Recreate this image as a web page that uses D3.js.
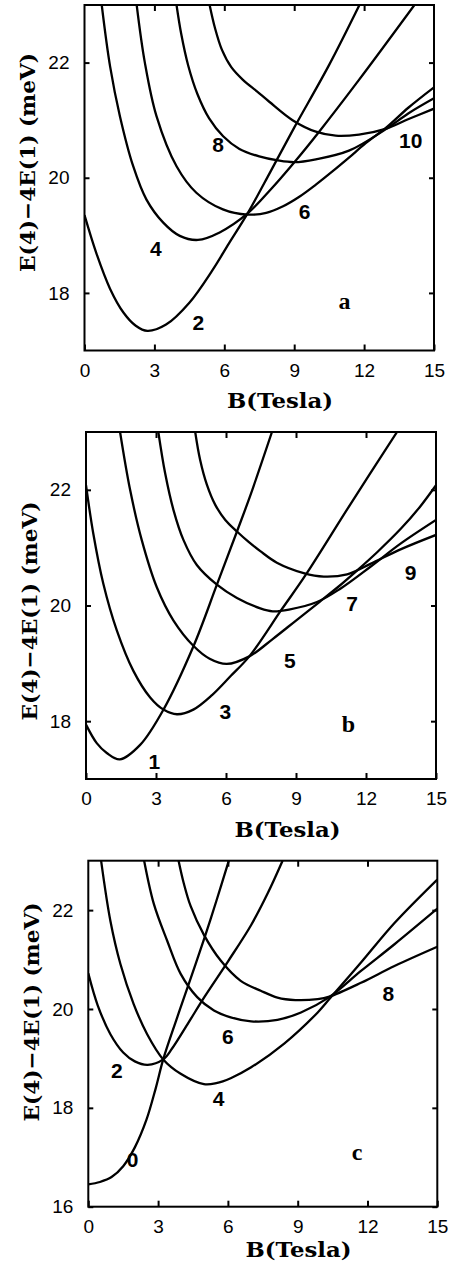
<!doctype html>
<html>
<head>
<style>
body { margin: 0; background: #fff; }
.curve { fill: none; stroke: #000; stroke-width: 2.3; }
.frame { fill: none; stroke: #000; stroke-width: 2; }
.tick line { stroke-width: 2; }
.num { font-family: "Liberation Sans", Arial, sans-serif; font-weight: bold; font-size: 21px; }
.tag { font-family: "Liberation Serif", serif; font-weight: bold; font-size: 24px; }
.title { font-family: "DejaVu Serif", serif; font-weight: bold; font-size: 21px; }
</style>
<script src="https://d3js.org/d3.v7.min.js"></script>
</head>
<body>
<svg width="451" height="1268"></svg>
<script>
// tick values
var fieldTicks = [0, 3, 6, 9, 12, 15];
var innerFieldTicks = [3, 6, 9, 12];
var energyTicksAB = [18, 20, 22];
var energyTicksC = [16, 18, 20, 22];

// panel a: [B (T), E (meV)]
var a2 = [[0,19.35],[0.5,18.7],[1.1,18.07],[1.67,17.66],[2.2,17.43],[2.7,17.34],[3.5,17.45],[4.5,17.83],[5.5,18.4],[6.2,18.86],[7.0,19.38],[8.0,20.12],[9.0,20.87],[10.5,21.96],[11.8,23.0]];
var a4 = [[0.74,23.0],[1.1,21.93],[1.52,21.07],[2.09,20.2],[2.66,19.62],[3.38,19.22],[4.09,18.99],[4.87,18.92],[5.8,19.05],[7.0,19.38],[8.0,19.8],[9.07,20.3],[10.07,20.8],[11.78,21.7],[14.16,23.0]];
var a6 = [[2.24,23.0],[2.59,22.0],[3.09,21.07],[3.95,20.2],[4.8,19.74],[5.94,19.45],[7.0,19.36],[7.8,19.39],[8.5,19.5],[9.22,19.67],[9.93,19.88],[10.64,20.11],[11.35,20.35],[12.07,20.6],[12.92,20.86],[13.91,21.22],[15,21.57]];
var a8 = [[3.95,23.0],[4.15,22.5],[4.45,21.95],[4.85,21.45],[5.35,21.03],[5.95,20.72],[6.65,20.5],[7.5,20.37],[8.3,20.3],[9.0,20.27],[9.93,20.32],[11.35,20.47],[12.92,20.84],[13.91,21.12],[15,21.38]];
var a10 = [[5.37,23.0],[5.6,22.6],[5.9,22.22],[6.3,21.92],[6.8,21.7],[7.4,21.5],[7.93,21.32],[8.93,21.0],[9.93,20.8],[10.78,20.73],[11.78,20.75],[12.92,20.85],[13.91,21.02],[15,21.2]];
var labelsA = [["2",4.89,17.48],["4",3.06,18.78],["6",9.45,19.41],["8",5.73,20.58],["10",14.0,20.65]];

// panel b
var b1 = [[0,17.94],[0.46,17.62],[0.89,17.45],[1.45,17.34],[2.32,17.59],[3.32,18.2],[4.61,19.3],[5.61,20.36],[6.47,21.28],[7.04,21.9],[7.97,23.0]];
var b3 = [[0,22.08],[0.31,21.25],[0.74,20.38],[1.32,19.57],[2.03,18.87],[2.75,18.41],[3.32,18.2],[3.9,18.12],[4.6,18.2],[5.4,18.45],[6.2,18.78],[7.0,19.12],[8.4,19.94],[9.4,20.52],[11.33,21.75],[13.33,23.0]];
var b5 = [[1.46,23.0],[1.89,22.0],[2.39,21.13],[3.03,20.32],[3.75,19.74],[4.61,19.3],[5.3,19.08],[6.03,18.99],[7.0,19.12],[8.0,19.42],[9.0,19.74],[10.0,20.06],[10.8,20.32],[11.6,20.6],[12.5,20.93],[13.5,21.33],[14.3,21.7],[15,22.08]];
var b7 = [[3.1,23.0],[3.39,22.29],[3.75,21.65],[4.18,21.13],[4.75,20.7],[5.61,20.36],[6.47,20.13],[7.47,19.95],[8.0,19.9],[8.7,19.93],[9.9,20.06],[10.9,20.29],[12.19,20.67],[13.48,21.07],[15,21.48]];
var b9 = [[4.68,23.0],[4.89,22.52],[5.18,22.09],[5.54,21.74],[5.97,21.48],[6.47,21.28],[6.97,21.1],[7.47,20.94],[8.18,20.74],[9.33,20.56],[10.19,20.5],[11.19,20.54],[12.19,20.72],[13.48,20.97],[15,21.22]];
var labelsB = [["1",2.93,17.31],["3",5.97,18.17],["5",8.74,19.05],["7",11.4,20.04],["9",13.91,20.57]];

// panel c
var c0 = [[0,16.45],[0.5,16.5],[1.0,16.6],[1.5,16.82],[2.0,17.2],[2.5,17.76],[2.9,18.4],[3.22,18.98],[3.8,19.8],[4.4,20.62],[5.0,21.45],[5.5,22.18],[6.04,23.0]];
var c2 = [[0,20.72],[0.4,20.08],[0.95,19.49],[1.5,19.12],[2.0,18.94],[2.55,18.87],[3.22,18.98],[3.6,19.2],[4.3,19.72],[5.0,20.25],[6.0,20.96],[7.0,21.7],[7.7,22.33],[8.35,23.0]];
var c4 = [[0.55,23.0],[0.95,21.78],[1.38,20.91],[1.95,20.1],[2.53,19.49],[3.22,18.98],[3.97,18.69],[4.97,18.48],[5.5,18.5],[6.12,18.6],[7.0,18.82],[8.42,19.3],[9.86,19.93],[10.36,20.2],[11.72,20.94],[13.16,21.74],[15,22.62]];
var c6 = [[2.4,23.0],[2.82,22.12],[3.39,21.38],[3.97,20.71],[4.68,20.24],[5.4,19.97],[6.12,19.83],[7.0,19.75],[8.13,19.78],[9.14,19.93],[10.36,20.24],[11.72,20.77],[13.16,21.31],[15,22.03]];
var c8 = [[3.88,23.0],[4.1,22.55],[4.4,22.08],[4.97,21.5],[5.69,20.98],[6.55,20.57],[7.41,20.37],[8.13,20.23],[8.9,20.18],[9.86,20.2],[10.36,20.25],[11.72,20.53],[13.16,20.87],[15,21.26]];
var labelsC = [["0",1.9,16.96],["2",1.23,18.76],["4",5.6,18.19],["6",6.0,19.44],["8",12.9,20.31]];

var panels = [
	{id: "a", curves: [a2, a4, a6, a8, a10], labels: labelsA, tag: [11.16, 17.82], yDomain: [17, 23], yTicks: energyTicksAB,
	 left: 84.5, right: 434, top: 5, bottom: 350.5, xLabelX: 280, xLabelY: 408, yLabelX: 35, yLabelY: 162.5},
	{id: "b", curves: [b1, b3, b5, b7, b9], labels: labelsB, tag: [11.25, 17.91], yDomain: [17, 23], yTicks: energyTicksAB,
	 left: 86, right: 436, top: 432, bottom: 779, xLabelX: 287.5, xLabelY: 836.5, yLabelX: 37, yLabelY: 611},
	{id: "c", curves: [c0, c2, c4, c6, c8], labels: labelsC, tag: [11.55, 17.07], yDomain: [16, 23], yTicks: energyTicksC,
	 left: 88.3, right: 437.3, top: 860.7, bottom: 1206.7, xLabelX: 298.5, xLabelY: 1257, yLabelX: 39, yLabelY: 1012}
];

var svg = d3.select("svg");

function noDomain(g) { g.select(".domain").remove(); }

panels.forEach(function(p) {
	var x = d3.scaleLinear().domain([0, 15]).range([p.left, p.right]);
	var y = d3.scaleLinear().domain(p.yDomain).range([p.bottom, p.top]);
	var g = svg.append("g");

	g.append("clipPath").attr("id", "clip-" + p.id)
		.append("rect").attr("x", p.left).attr("y", p.top)
		.attr("width", p.right - p.left).attr("height", p.bottom - p.top);

	var line = d3.line()
		.x(function(d) { return x(d[0]); })
		.y(function(d) { return y(d[1]); })
		.curve(d3.curveCatmullRom.alpha(0.5));

	g.append("g").attr("clip-path", "url(#clip-" + p.id + ")")
		.selectAll("path").data(p.curves).enter().append("path")
		.attr("class", "curve").attr("d", line);

	// axes, ticks pointing inwards
	g.append("g").attr("transform", "translate(0," + p.bottom + ")")
		.call(d3.axisBottom(x).tickValues(fieldTicks).tickSize(-6).tickPadding(13).tickFormat(d3.format("d")))
		.call(noDomain)
		.attr("font-family", "Liberation Sans, Arial, sans-serif").attr("font-size", 19);
	g.append("g").attr("transform", "translate(0," + p.top + ")")
		.call(d3.axisTop(x).tickValues(innerFieldTicks).tickSize(-6).tickFormat(""))
		.call(noDomain);
	g.append("g").attr("transform", "translate(" + p.left + ",0)")
		.call(d3.axisLeft(y).tickValues(p.yTicks).tickSize(-5).tickPadding(15).tickFormat(d3.format("d")))
		.call(noDomain)
		.attr("font-family", "Liberation Sans, Arial, sans-serif").attr("font-size", 19);
	g.append("g").attr("transform", "translate(" + p.right + ",0)")
		.call(d3.axisRight(y).tickValues(p.yTicks).tickSize(-5).tickFormat(""))
		.call(noDomain);

	g.append("rect").attr("class", "frame")
		.attr("x", p.left).attr("y", p.top)
		.attr("width", p.right - p.left).attr("height", p.bottom - p.top);

	g.selectAll(".num").data(p.labels).enter().append("text")
		.attr("class", "num")
		.attr("x", function(d) { return x(d[1]); })
		.attr("y", function(d) { return y(d[2]); })
		.attr("dy", "0.36em")
		.attr("text-anchor", "middle")
		.text(function(d) { return d[0]; });

	g.append("text").attr("class", "tag")
		.attr("x", x(p.tag[0])).attr("y", y(p.tag[1])).attr("dy", "0.25em")
		.attr("text-anchor", "middle").text(p.id);

	g.append("text").attr("class", "title")
		.attr("x", p.xLabelX).attr("y", p.xLabelY)
		.attr("text-anchor", "middle")
		.attr("textLength", 106).attr("lengthAdjust", "spacingAndGlyphs")
		.text("B(Tesla)");

	g.append("text").attr("class", "title")
		.attr("transform", "translate(" + p.yLabelX + "," + p.yLabelY + ") rotate(-90)")
		.attr("text-anchor", "middle")
		.attr("textLength", 219).attr("lengthAdjust", "spacingAndGlyphs")
		.text("E(4)\u22124E(1) (meV)");
});
</script>
</body>
</html>
